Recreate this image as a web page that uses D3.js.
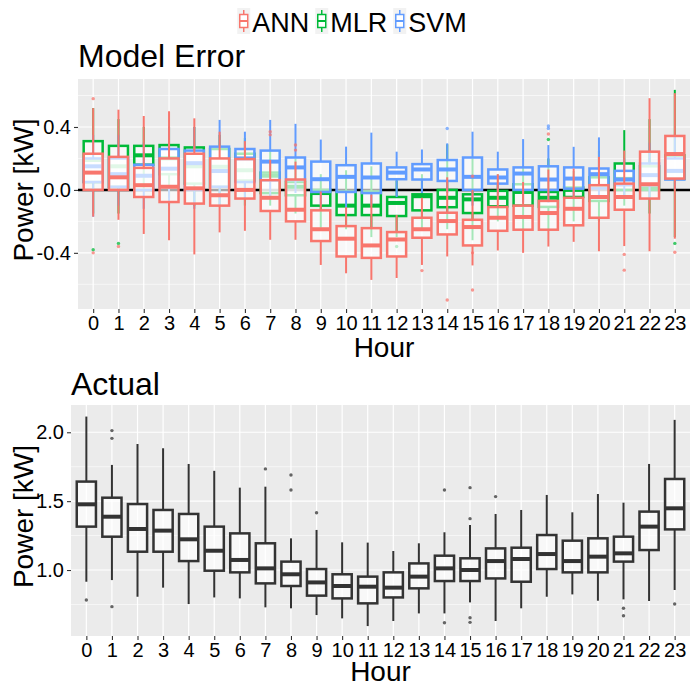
<!DOCTYPE html>
<html lang="en">
<head>
<meta charset="UTF-8">
<title>Model Error and Actual Power by Hour</title>
<script src="https://d3js.org/d3.v7.min.js"></script>
<style>
  html, body { margin: 0; padding: 0; background: #fff; }
  svg { display: block; font-family: "Liberation Sans", Arial, sans-serif; }
</style>
</head>
<body>
<svg id="chart" width="700" height="685"></svg>
<script>
// ---- data ----
var hourLabels = ["0","1","2","3","4","5","6","7","8","9","10","11","12","13","14","15","16","17","18","19","20","21","22","23"];

// each row: [lower whisker, q1, median, q3, upper whisker]
var annBoxes = [
  [-0.17, 0.00, 0.11, 0.23, 0.52], [-0.19, 0.00, 0.08, 0.21, 0.51], [-0.28, -0.045, 0.03, 0.14, 0.47],
  [-0.32, -0.077, 0.02, 0.20, 0.50], [-0.41, -0.087, 0.01, 0.23, 0.455], [-0.27, -0.10, -0.034, 0.20, 0.37],
  [-0.26, -0.055, 0.00, 0.196, 0.31], [-0.317, -0.134, -0.05, 0.062, 0.19], [-0.317, -0.20, -0.126, 0.066, 0.18],
  [-0.477, -0.325, -0.25, -0.13, -0.01], [-0.53, -0.423, -0.31, -0.23, -0.11], [-0.572, -0.432, -0.353, -0.243, -0.03],
  [-0.56, -0.423, -0.315, -0.268, -0.16], [-0.477, -0.304, -0.25, -0.177, -0.05], [-0.423, -0.283, -0.198, -0.145, 0.08],
  [-0.48, -0.353, -0.236, -0.19, 0.00], [-0.385, -0.26, -0.177, -0.109, 0.10], [-0.40, -0.253, -0.172, -0.10, 0.05],
  [-0.36, -0.253, -0.147, -0.07, 0.13], [-0.33, -0.225, -0.12, -0.05, 0.136], [-0.39, -0.177, -0.045, 0.03, 0.21],
  [-0.357, -0.126, -0.045, 0.04, 0.25], [-0.39, -0.055, 0.036, 0.243, 0.583], [-0.31, 0.072, 0.228, 0.343, 0.615]
];
var mlrBoxes = [
  [-0.15, 0.05, 0.19, 0.31, 0.52], [-0.15, 0.02, 0.15, 0.28, 0.45], [0.00, 0.16, 0.22, 0.28, 0.40],
  [-0.05, 0.10, 0.20, 0.285, 0.40], [-0.10, 0.04, 0.15, 0.27, 0.40], [-0.10, 0.02, 0.147, 0.26, 0.35],
  [-0.10, 0.06, 0.125, 0.23, 0.33], [-0.10, -0.02, 0.09, 0.11, 0.25], [-0.15, -0.034, 0.02, 0.05, 0.20],
  [-0.24, -0.10, -0.02, 0.00, 0.10], [-0.25, -0.16, -0.10, -0.01, 0.125], [-0.30, -0.16, -0.10, -0.01, 0.15],
  [-0.30, -0.166, -0.083, -0.045, 0.06], [-0.25, -0.13, -0.04, -0.028, 0.10], [-0.25, -0.11, -0.05, 0.00, 0.29],
  [-0.32, -0.147, -0.06, -0.028, 0.20], [-0.20, -0.104, -0.05, -0.006, 0.10], [-0.25, -0.10, -0.013, 0.036, 0.15],
  [-0.25, -0.108, -0.05, -0.013, 0.20], [-0.20, -0.045, 0.00, 0.015, 0.12], [-0.20, -0.07, 0.02, 0.08, 0.25],
  [-0.10, 0.00, 0.07, 0.168, 0.38], [-0.15, 0.00, 0.01, 0.15, 0.45], [-0.30, 0.07, 0.12, 0.22, 0.636]
];
var svmBoxes = [
  [-0.17, 0.05, 0.15, 0.20, 0.35], [-0.10, 0.02, 0.10, 0.20, 0.35], [-0.12, 0.00, 0.09, 0.16, 0.30],
  [-0.10, 0.02, 0.135, 0.26, 0.40], [-0.12, 0.00, 0.17, 0.25, 0.40], [-0.10, 0.02, 0.12, 0.275, 0.445],
  [-0.05, 0.05, 0.20, 0.26, 0.37], [-0.05, 0.06, 0.18, 0.25, 0.445], [-0.02, 0.062, 0.143, 0.206, 0.42],
  [-0.10, -0.013, 0.068, 0.18, 0.32], [-0.12, -0.013, 0.083, 0.157, 0.275], [-0.10, -0.02, 0.079, 0.168, 0.364],
  [-0.045, 0.068, 0.11, 0.143, 0.243], [-0.02, 0.066, 0.13, 0.164, 0.257], [-0.02, 0.057, 0.13, 0.19, 0.296],
  [-0.10, 0.00, 0.083, 0.206, 0.37], [-0.03, 0.04, 0.079, 0.13, 0.243], [-0.08, 0.00, 0.104, 0.143, 0.323],
  [-0.08, 0.00, 0.066, 0.15, 0.285], [-0.05, 0.008, 0.072, 0.143, 0.274], [-0.05, 0.01, 0.10, 0.136, 0.334],
  [-0.05, 0.03, 0.066, 0.121, 0.20], [-0.05, 0.03, 0.094, 0.168, 0.30], [0.00, 0.066, 0.121, 0.20, 0.35]
];
// outliers: [hour, value]
var annOutliers = [[0, 0.58], [0, -0.40], [1, -0.36], [7, 0.37], [7, 0.35], [8, 0.285], [8, 0.253],
  [13, -0.513], [14, -0.70], [15, -0.636], [15, -0.40], [15, 0.087], [18, 0.355], [21, -0.41], [21, -0.51], [23, -0.396]];
var mlrOutliers = [[0, -0.38], [1, -0.34], [12, -0.36], [18, 0.32], [23, -0.34]];
var svmOutliers = [[14, 0.39], [18, 0.406], [18, 0.39]];

var actualBoxes = [
  [0.915, 1.315, 1.477, 1.642, 2.114], [0.927, 1.242, 1.387, 1.525, 1.763], [0.806, 1.133, 1.298, 1.479, 1.915],
  [0.872, 1.133, 1.286, 1.436, 1.884], [0.753, 1.065, 1.223, 1.407, 1.770], [0.801, 0.995, 1.140, 1.315, 1.720],
  [0.794, 0.983, 1.073, 1.266, 1.598], [0.729, 0.903, 1.012, 1.194, 1.605], [0.722, 0.884, 0.969, 1.061, 1.230],
  [0.673, 0.814, 0.910, 1.007, 1.291], [0.649, 0.794, 0.884, 0.969, 1.201], [0.593, 0.758, 0.879, 0.952, 1.199],
  [0.630, 0.801, 0.872, 0.983, 1.138], [0.685, 0.867, 0.952, 1.048, 1.194], [0.685, 0.920, 1.012, 1.104, 1.274],
  [0.765, 0.920, 1.000, 1.085, 1.327], [0.630, 0.939, 1.065, 1.157, 1.407], [0.722, 0.915, 1.080, 1.162, 1.436],
  [0.806, 1.007, 1.116, 1.254, 1.545], [0.823, 0.983, 1.065, 1.213, 1.419], [0.777, 0.983, 1.097, 1.230, 1.552],
  [0.787, 1.061, 1.121, 1.242, 1.489], [0.775, 1.145, 1.315, 1.424, 1.770], [0.855, 1.295, 1.448, 1.661, 2.090]
];
var actualOutliers = [[0, 0.782], [1, 2.012], [1, 1.956], [1, 0.734], [7, 1.734], [8, 1.690], [8, 1.581],
  [9, 1.416], [14, 1.581], [14, 0.617], [15, 1.598], [15, 1.373], [15, 0.654], [15, 0.620], [16, 1.533],
  [21, 0.722], [21, 0.668], [23, 0.753]];

var seriesNames = ["ANN", "MLR", "SVM"];
var seriesColors = ["#F8766D", "#00BA38", "#619CFF"];

var errorTicks = [-0.4, 0.0, 0.4], errorMinor = [-0.6, -0.2, 0.2, 0.6];
var actualTicks = [1.0, 1.5, 2.0], actualMinor = [0.75, 1.25, 1.75];

// ---- drawing ----
var svg = d3.select("#chart");

function drawPanel(p) {
    var x = d3.scalePoint().domain(hourLabels).range([p.left, p.right]).padding(0.6);
    var y = d3.scaleLinear().domain(p.domain).range([p.bottom, p.top]);
    var g = svg.append("g");

    g.append("rect")
        .attr("x", p.left).attr("y", p.top)
        .attr("width", p.right - p.left).attr("height", p.bottom - p.top)
        .attr("fill", "#EBEBEB");

    g.selectAll(".minor").data(p.minor).enter().append("line")
        .attr("x1", p.left).attr("x2", p.right)
        .attr("y1", d => y(d)).attr("y2", d => y(d))
        .attr("stroke", "#fff").attr("stroke-width", 0.6);
    g.selectAll(".major").data(p.ticks).enter().append("line")
        .attr("x1", p.left).attr("x2", p.right)
        .attr("y1", d => y(d)).attr("y2", d => y(d))
        .attr("stroke", "#fff").attr("stroke-width", 1.2);
    g.selectAll(".vgrid").data(hourLabels).enter().append("line")
        .attr("x1", d => x(d)).attr("x2", d => x(d))
        .attr("y1", p.top).attr("y2", p.bottom)
        .attr("stroke", "#fff").attr("stroke-width", 1.2);

    // axes
    var ya = g.append("g").attr("transform", "translate(" + p.left + ",0)")
        .call(d3.axisLeft(y).tickValues(p.ticks).tickFormat(d => d.toFixed(1)).tickSize(4).tickPadding(3));
    var xa = g.append("g").attr("transform", "translate(0," + p.bottom + ")")
        .call(d3.axisBottom(x).tickSize(4).tickPadding(3));
    [ya, xa].forEach(function(a) {
        a.select(".domain").remove();
        a.selectAll(".tick line").attr("stroke", "#333").attr("stroke-width", 1.1);
        a.selectAll(".tick text").attr("fill", "#000").attr("font-size", 20)
            .attr("font-family", "Liberation Sans, Arial, sans-serif");
    });
    xa.selectAll(".tick text").attr("dy", null).attr("y", 21);

    svg.append("text").attr("x", p.left).attr("y", p.titleY)
        .attr("font-size", 32).attr("fill", "#000").text(p.title);
    svg.append("text").attr("x", (p.left + p.right) / 2).attr("y", p.hourY)
        .attr("text-anchor", "middle").attr("font-size", 28).attr("fill", "#000").text("Hour");
    svg.append("text")
        .attr("transform", "translate(33," + ((p.top + p.bottom) / 2 - 4) + ") rotate(-90)")
        .attr("text-anchor", "middle").attr("font-size", 28).attr("fill", "#000").text("Power [kW]");

    return {x: x, y: y, g: g};
}

function drawBoxes(panel, boxes, outliers, color) {
    var x = panel.x, y = panel.y;
    var bw = x.step() * 0.75;
    var g = panel.g.append("g");
    var rows = boxes.map(function(b, i) { return {h: hourLabels[i], b: b}; });
    var box = g.selectAll(".box").data(rows).enter().append("g");

    box.append("line")
        .attr("x1", d => x(d.h)).attr("x2", d => x(d.h))
        .attr("y1", d => y(d.b[0])).attr("y2", d => y(d.b[1]))
        .attr("stroke", color).attr("stroke-width", 2);
    box.append("line")
        .attr("x1", d => x(d.h)).attr("x2", d => x(d.h))
        .attr("y1", d => y(d.b[3])).attr("y2", d => y(d.b[4]))
        .attr("stroke", color).attr("stroke-width", 2);
    box.append("rect")
        .attr("x", d => x(d.h) - bw / 2).attr("width", bw)
        .attr("y", d => y(d.b[3])).attr("height", d => y(d.b[1]) - y(d.b[3]))
        .attr("fill", "#fff").attr("fill-opacity", 0.65)
        .attr("stroke", color).attr("stroke-width", 2.5);
    box.append("line")
        .attr("x1", d => x(d.h) - bw / 2).attr("x2", d => x(d.h) + bw / 2)
        .attr("y1", d => y(d.b[2])).attr("y2", d => y(d.b[2]))
        .attr("stroke", color).attr("stroke-width", 4);

    g.selectAll(".out").data(outliers).enter().append("circle")
        .attr("cx", d => x(hourLabels[d[0]])).attr("cy", d => y(d[1]))
        .attr("r", 1.7).attr("fill", color).attr("fill-opacity", 0.75);
}

// top panel: model error
var errPanel = drawPanel({left: 78, right: 690, top: 79, bottom: 309, domain: [-0.757, 0.705],
    ticks: errorTicks, minor: errorMinor, title: "Model Error", titleY: 67, hourY: 357});
errPanel.g.append("line")
    .attr("x1", errPanel.x.range()[0]).attr("x2", errPanel.x.range()[1])
    .attr("y1", errPanel.y(0)).attr("y2", errPanel.y(0))
    .attr("stroke", "#000").attr("stroke-width", 2.5);
drawBoxes(errPanel, mlrBoxes, mlrOutliers, seriesColors[1]);
drawBoxes(errPanel, svmBoxes, svmOutliers, seriesColors[2]);
drawBoxes(errPanel, annBoxes, annOutliers, seriesColors[0]);

// bottom panel: actual
var actPanel = drawPanel({left: 71, right: 690, top: 405, bottom: 636, domain: [0.521, 2.198],
    ticks: actualTicks, minor: actualMinor, title: "Actual", titleY: 395, hourY: 681});
drawBoxes(actPanel, actualBoxes, actualOutliers, "#333333");

// legend
var legend = svg.append("g");
var lx = 0;
seriesNames.forEach(function(name, i) {
    var item = legend.append("g").attr("transform", "translate(" + lx + ",0)");
    item.append("rect").attr("x", 0).attr("y", 8).attr("width", 13).attr("height", 26).attr("fill", "#F2F2F2");
    item.append("line").attr("x1", 6.5).attr("x2", 6.5).attr("y1", 10).attr("y2", 32)
        .attr("stroke", seriesColors[i]).attr("stroke-width", 1.5);
    item.append("rect").attr("x", 2.5).attr("y", 14.5).attr("width", 8).attr("height", 13)
        .attr("fill", "#fff").attr("stroke", seriesColors[i]).attr("stroke-width", 1.5);
    item.append("line").attr("x1", 2.5).attr("x2", 10.5).attr("y1", 21).attr("y2", 21)
        .attr("stroke", seriesColors[i]).attr("stroke-width", 2);
    var t = item.append("text").attr("x", 15).attr("y", 32).attr("font-size", 27).attr("fill", "#000").text(name);
    lx += 15 + t.node().getComputedTextLength() + 6;
});
legend.attr("transform", "translate(" + (352 - (lx - 6) / 2) + ",0)");
</script>
</body>
</html>
